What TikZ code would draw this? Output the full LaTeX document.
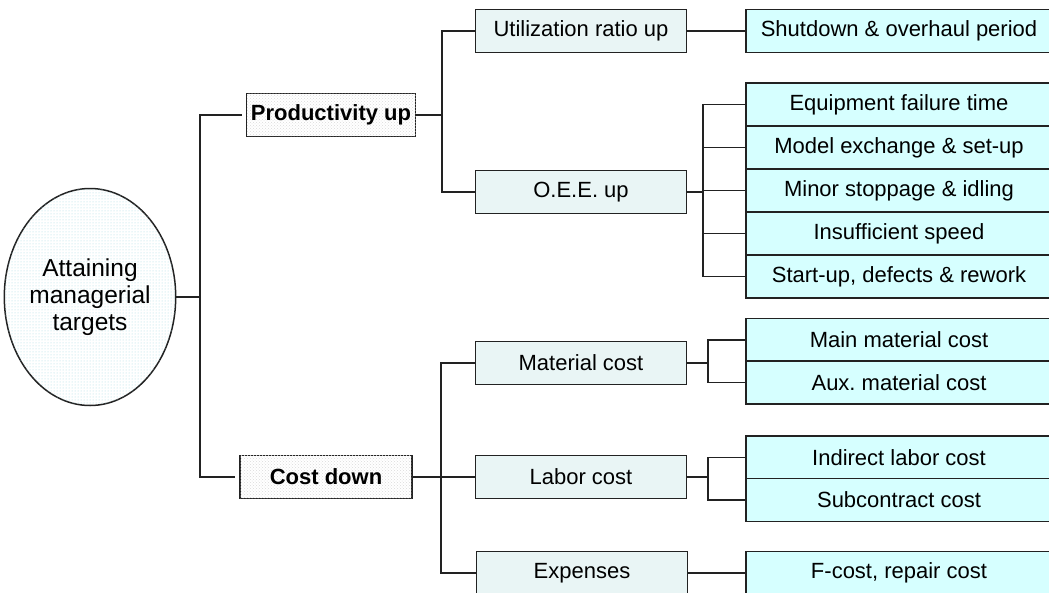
\documentclass[tikz,border=0pt]{standalone}
\usepackage{fontspec}
\setmainfont{Liberation Sans}
\usetikzlibrary{positioning, shapes.geometric, patterns, calc}
\definecolor{midfill}{HTML}{E9F5F5}
\definecolor{leaffill}{HTML}{D6FFFF}
\definecolor{dotcyan}{HTML}{A8DCE4}
\definecolor{linegray}{HTML}{222222}

\tikzset{
  base/.style={draw=linegray, line width=1.5pt, inner sep=0pt, font=\fontsize{22}{26}\selectfont},
  goal/.style={base, ellipse, minimum width=162, minimum height=217, fill=white,
    postaction={pattern=dots, pattern color=dotcyan}, align=center, font=\fontsize{24.5}{27}\selectfont},
  topbox/.style={base, minimum height=43, fill=white,
    postaction={pattern=crosshatch dots, pattern color=black!14}, font=\fontsize{22}{26}\selectfont\bfseries},
  midbox/.style={base, minimum width=211, minimum height=43, fill=midfill},
  leafbox/.style={base, minimum width=306, minimum height=43, fill=leaffill},
  wire/.style={draw=linegray, line width=1.5pt},
}

\begin{document}
\begin{tikzpicture}[x=1pt, y=-1pt]
    \useasboundingbox (0,0) rectangle (1049,592);
    \clip (0,0) rectangle (1049,592);

    % root and first level
    \node[goal] (goal) at (90,297) {Attaining\\managerial\\targets};
    \node[topbox, minimum width=169] (prod) at (331,115) {Productivity up};
    \node[topbox, minimum width=172] (cost) at (326,477) {Cost down};

    % second level
    \node[midbox] (util) at (581,31) {Utilization ratio up};
    \node[midbox] (oee) at (581,192) {O.E.E.\ up};
    \node[midbox] (mat) at (581,363) {Material cost};
    \node[midbox] (lab) at (581,477) {Labor cost};
    \node[midbox] (exp) at (582,573) {Expenses};

    % leaves
    \node[leafbox] (shut) at (899,31) {Shutdown \& overhaul period};
    \foreach \txt [count=\i] in {Equipment failure time, Model exchange \& set-up,
        Minor stoppage \& idling, Insufficient speed, {Start-up, defects \& rework}}
      \node[leafbox] (oee\i) at (899,61.5+43*\i) {\txt};
    \node[leafbox] (mat1) at (899,340) {Main material cost};
    \node[leafbox] (mat2) at (899,382.5) {Aux.\ material cost};
    \node[leafbox] (lab1) at (899,457.5) {Indirect labor cost};
    \node[leafbox] (lab2) at (899,500) {Subcontract cost};
    \node[leafbox] (fcost) at (899,573) {F-cost, repair cost};

    % connectors
    \coordinate (trunk) at (200,297);
    \draw[wire] (goal.east) -- (trunk);
    \draw[wire, shorten >=4pt] (trunk) |- (prod.west);
    \draw[wire, shorten >=4pt] (trunk) |- (cost.west);

    \coordinate (pbus) at (442,115);
    \draw[wire] (prod.east) -- (pbus) |- (util.west);
    \draw[wire] (pbus) |- (oee.west);
    \draw[wire] (util.east) -- (shut.west);

    \coordinate (obr) at (703,192);
    \draw[wire] (oee.east) -- (obr);
    \foreach \i in {1,...,5}
      \draw[wire] (obr) |- (oee\i.west);

    \coordinate (cbus) at (441,477);
    \draw[wire] (cost.east) -- (cbus) |- (mat.west);
    \draw[wire] (cbus) -- (lab.west);
    \draw[wire] (cbus) |- (exp.west);

    \coordinate (mbr) at (708,363);
    \draw[wire] (mat.east) -- (mbr);
    \draw[wire] (mbr) |- (mat1.west);
    \draw[wire] (mbr) |- (mat2.west);

    \coordinate (lbr) at (708,477);
    \draw[wire] (lab.east) -- (lbr);
    \draw[wire] (lbr) |- (lab1.west);
    \draw[wire] (lbr) |- (lab2.west);

    \draw[wire] (exp.east) -- (fcost.west);
  \end{tikzpicture}
\end{document}
